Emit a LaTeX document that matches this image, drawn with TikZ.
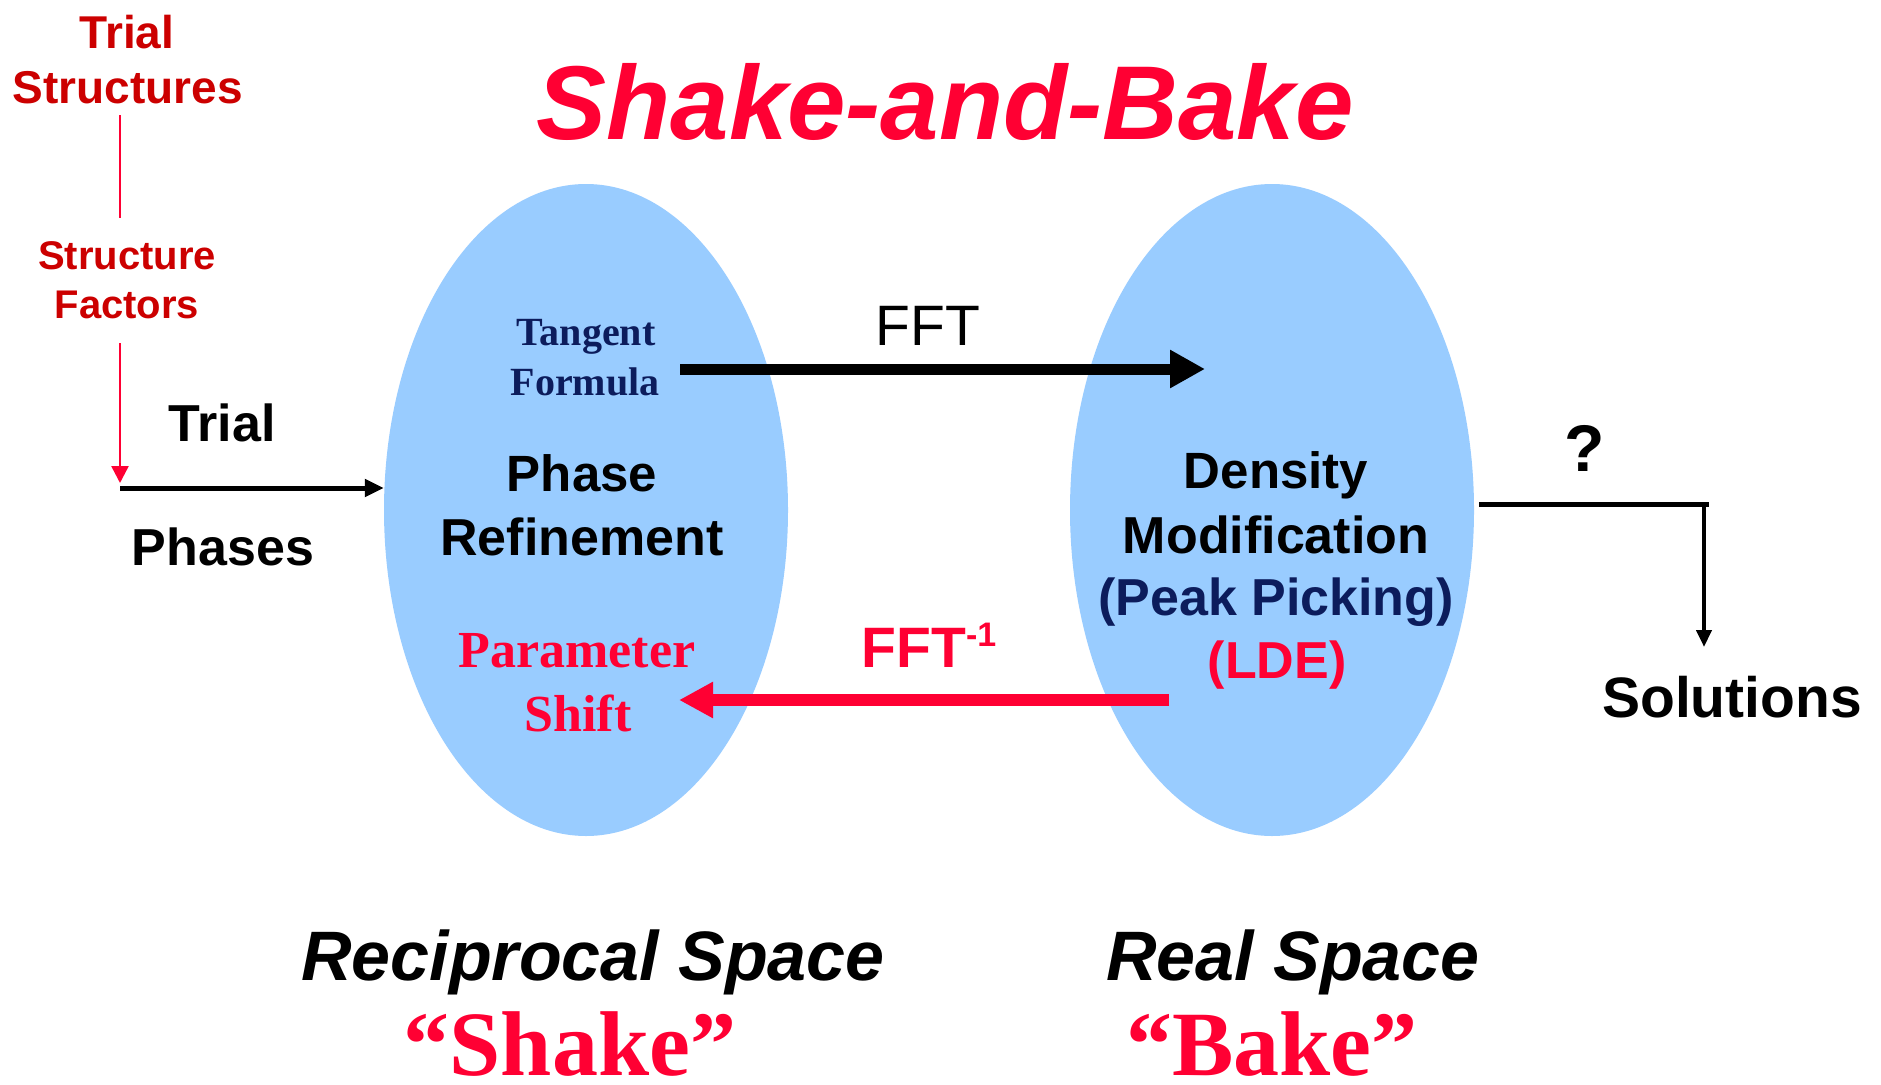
\documentclass[tikz,border=0pt]{standalone}
\usepackage{fontspec}
\setmainfont{Liberation Sans}
\newfontfamily\tnr{Liberation Serif}
\usetikzlibrary{shapes.geometric,arrows.meta}
\definecolor{brred}{RGB}{255,0,51}
\definecolor{dkred}{RGB}{204,0,0}
\definecolor{navy}{RGB}{12,28,92}
\definecolor{blob}{RGB}{153,204,255}
\begin{document}
\begin{tikzpicture}[x=1pt,y=-1pt,
  lbl/.style={inner sep=0pt, anchor=base},
  sb/.style={lbl, font=\fontsize{#1}{#1}\selectfont\bfseries},
  sr/.style={lbl, font=\fontsize{#1}{#1}\selectfont},
  sbi/.style={lbl, font=\fontsize{#1}{#1}\selectfont\bfseries\itshape},
  tb/.style={lbl, font=\fontsize{#1}{#1}\selectfont\tnr\bfseries},
  blobst/.style={ellipse, fill=blob, inner sep=0pt, minimum width=404pt, minimum height=652pt},
  thinred/.style={brred, line width=2.5pt},
]
\useasboundingbox (0,0) rectangle (1881,1084);
\fill[white] (0,0) rectangle (1881,1084);

% ellipses
\node[blobst] (recip) at (586,510) {};
\node[blobst] (real) at (1272,510) {};

% title
\node[sbi=105, text=brred] (title) at (945,139) {Shake-and-Bake};

% left column
\node[sb=46, text=dkred] (ts1) at (127,48) {Trial};
\node[sb=46, text=dkred] (ts2) at (128,103) {Structures};
\node[sb=40, text=dkred] (sf1) at (127,269) {Structure};
\node[sb=40, text=dkred] (sf2) at (127,318) {Factors};
\node[sb=52] (tp1) at (222,441) {Trial};
\node[sb=52] (tp2) at (223,565) {Phases};

\coordinate (l1a) at (120,115);
\coordinate (l1b) at (120,218);
\coordinate (l2a) at (120,343);
\coordinate (l2b) at (120,483);
\coordinate (tpa) at (120,488);
\draw[thinred] (l1a) -- (l1b);
\draw[thinred, -{Triangle[length=17pt,width=17pt]}] (l2a) -- (l2b);
\draw[line width=5pt, -{Triangle[length=19pt,width=17pt]}] (tpa) -- (tpa -| recip.west);

% left ellipse texts
\node[tb=40, text=navy] (tf1) at (586,345) {Tangent};
\node[tb=40, text=navy] (tf2) at (585,395) {Formula};
\node[sb=51] (pr1) at (582,491) {Phase};
\node[sb=52] (pr2) at (582,555) {Refinement};
\node[tb=52, text=brred] (ps1) at (577,667) {Parameter};
\node[tb=52, text=brred] (ps2) at (578,731) {Shift};

% right ellipse texts
\node[sb=51] (dm1) at (1276,488) {Density};
\node[sb=52] (dm2) at (1276,553) {Modification};
\node[sb=52, text=navy] (dm3) at (1276,615) {(Peak Picking)};
\node[sb=52, text=brred] (dm4) at (1277,678) {(LDE)};

% FFT arrows
\node[sr=57] (fft) at (928,345) {FFT};
\node[sb=57, text=brred] (ifft) at (929,667) {FFT\raisebox{21pt}{\fontsize{34}{34}\selectfont -1}};
\coordinate (fa) at (680,369);
\coordinate (fb) at (1205,369);
\draw[line width=11pt, -{Triangle[length=35pt,width=36pt]}] (fa) -- (fb);
\coordinate (ra) at (1169,700);
\coordinate (rb) at (679,700);
\draw[brred, line width=12pt, -{Triangle[length=34pt,width=34pt]}] (ra) -- (rb);

% output
\node[sb=66] (qm) at (1585,471) {?};
\node[sb=57] (sol) at (1732,717) {Solutions};
\coordinate (qa) at (1479,504);
\coordinate (qb) at (1709,504);
\coordinate (qc) at (1704,504);
\coordinate (qd) at (1704,647);
\draw[line width=5pt] (qa) -- (qb);
\draw[line width=4pt, -{Triangle[length=17pt,width=15pt]}] (qc) -- (qd);

% bottom captions
\node[sbi=70] (rs1) at (593,980) {Reciprocal Space};
\node[tb=92, text=brred] (rs2) at (570,1075) {“Shake”};
\node[sbi=70] (re1) at (1293,980) {Real Space};
\node[tb=92, text=brred] (re2) at (1272,1075) {“Bake”};
\end{tikzpicture}
\end{document}
